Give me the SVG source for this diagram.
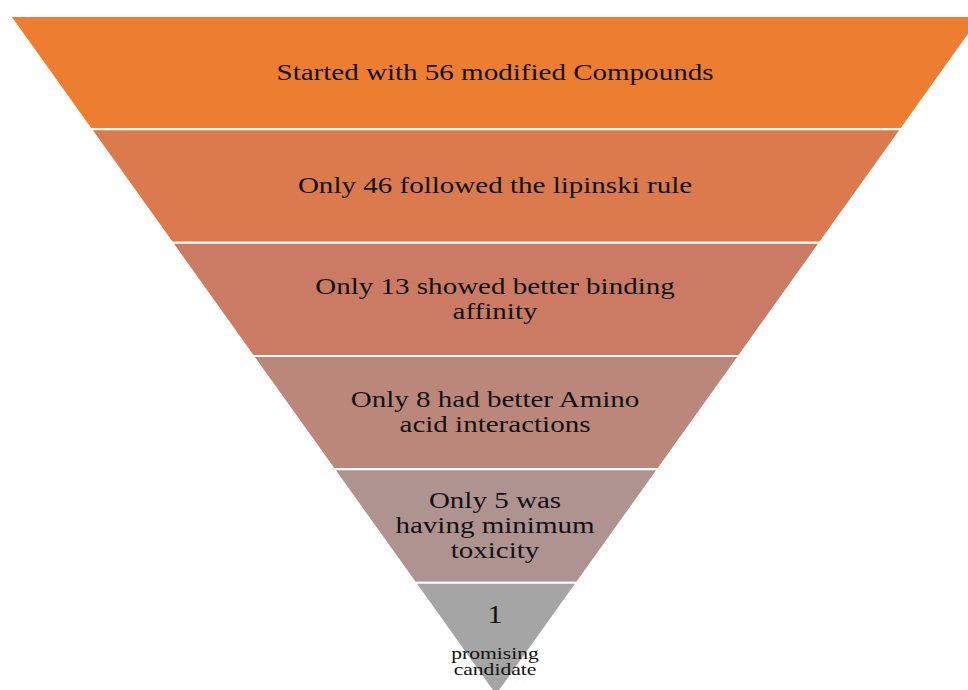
<svg xmlns="http://www.w3.org/2000/svg" width="968" height="690" viewBox="0 0 968 690">
  <style>
    .layer { stroke: #FFFFFF; stroke-width: 2; stroke-linejoin: miter; }
    .lbl { font-family: "Liberation Serif", "Times New Roman", serif; font-size: 24px; fill: #111111; text-anchor: middle; }
    .big { font-size: 26px; }
    .small { font-size: 16px; }
  </style>
  <rect x="0" y="0" width="968" height="690" fill="#FFFFFF"/>
  <g id="layer1">
    <polygon class="layer" points="10,16 982,16 901,129.33 91,129.33" fill="#ED7D31"/>
    <text class="lbl" transform="translate(495,80) scale(1.21,1)">Started with 56 modified Compounds</text>
  </g>
  <g id="layer2">
    <polygon class="layer" points="91,129.33 901,129.33 820,242.67 172,242.67" fill="#DB7A4C"/>
    <text class="lbl" transform="translate(495,193) scale(1.21,1)">Only 46 followed the lipinski rule</text>
  </g>
  <g id="layer3">
    <polygon class="layer" points="172,242.67 820,242.67 739,356 253,356" fill="#CB7B63"/>
    <text class="lbl" transform="translate(495,294) scale(1.21,1)">Only 13 showed better binding</text>
    <text class="lbl" transform="translate(495,319) scale(1.21,1)">affinity</text>
  </g>
  <g id="layer4">
    <polygon class="layer" points="253,356 739,356 658,469.33 334,469.33" fill="#BB877A"/>
    <text class="lbl" transform="translate(495,407) scale(1.21,1)">Only 8 had better Amino</text>
    <text class="lbl" transform="translate(495,432) scale(1.21,1)">acid interactions</text>
  </g>
  <g id="layer5">
    <polygon class="layer" points="334,469.33 658,469.33 577,582.67 415,582.67" fill="#AE9391"/>
    <text class="lbl" transform="translate(495,508) scale(1.21,1)">Only 5 was</text>
    <text class="lbl" transform="translate(495,533) scale(1.21,1)">having minimum</text>
    <text class="lbl" transform="translate(495,558) scale(1.21,1)">toxicity</text>
  </g>
  <g id="layer6">
    <polygon class="layer" points="415,582.67 577,582.67 496,696" fill="#A5A5A5"/>
    <text class="lbl big" transform="translate(495,623) scale(1.15,1)">1</text>
    <text class="lbl small" transform="translate(495,659) scale(1.35,1)">promising</text>
    <text class="lbl small" transform="translate(495,675) scale(1.35,1)">candidate</text>
  </g>
  <g id="connectors"></g>
</svg>
